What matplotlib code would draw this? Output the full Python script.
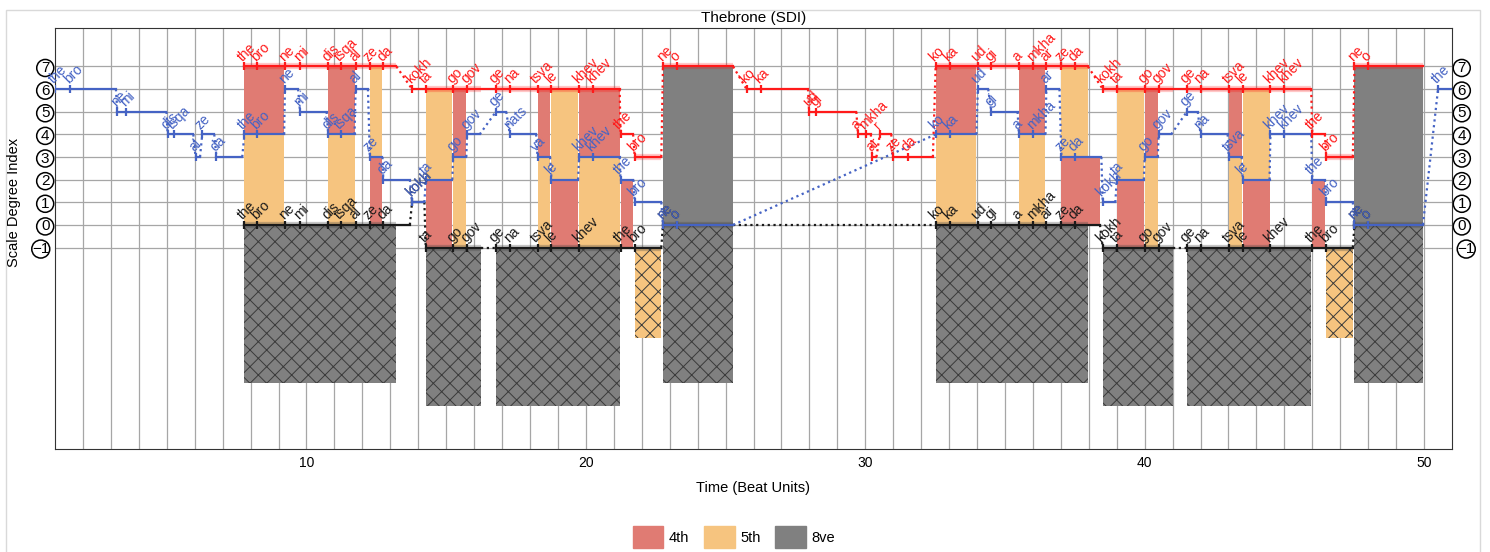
import matplotlib.pyplot as plt
import numpy as np
from matplotlib.patches import Patch, Rectangle

plt.rcParams['font.family'] = ['Liberation Sans', 'DejaVu Sans']
plt.rcParams['hatch.linewidth'] = 0.7

# ---- top voice (red) ----
top_syl = ['the', 'bro', 'ne', 'mi', 'dis', 'tsqa', 'al', 'ze', 'da',
           'kokh', 'ta', 'go', 'gov', 'ge', 'na', 'tsva', 'le', 'khev', 'khev',
           'the', 'bro', 'ne', 'o',
           'ko', 'ka', 'ud', 'gi', 'a', 'mkha', 'ar', 'r', 'ze', 'da',
           'ko', 'ka', 'ud', 'gi', 'a', 'mkha', 'ar', 'ze', 'da',
           'kokh', 'ta', 'go', 'gov', 'ge', 'na', 'tsva', 'le', 'khev', 'khev',
           'the', 'bro', 'ne', 'o']
top_on = [7.78, 8.24, 9.23, 9.77, 10.78, 11.23, 11.76, 12.27, 12.75,
          13.78, 14.27, 15.25, 15.75, 16.78, 17.28, 18.27, 18.77, 19.76, 20.24,
          21.24, 21.75, 22.76, 23.26,
          25.75, 26.26, 27.99, 28.25, 29.74, 30.02, 30.25, 30.52, 30.99, 31.53,
          32.52, 33.02, 34.03, 34.51, 35.5, 36.0, 36.48, 37.02, 37.49,
          38.5, 39.0, 40.0, 40.5, 41.51, 42.0, 43.01, 43.51, 44.5, 45.0,
          46.0, 46.5, 47.51, 47.99]
top_off = [8.24, 9.23, 9.77, 10.78, 11.23, 11.76, 12.27, 12.75, 13.22,
           14.27, 15.25, 15.75, 16.78, 17.28, 18.27, 18.77, 19.76, 20.24, 21.21,
           21.69, 22.7, 23.26, 25.27,
           26.26, 27.95, 28.25, 29.68, 30.02, 30.2, 30.4, 30.93, 31.53, 32.42,
           33.02, 34.03, 34.51, 35.5, 36.0, 36.48, 37.02, 37.49, 37.97,
           39.0, 40.0, 40.5, 41.51, 42.0, 43.01, 43.51, 44.5, 45.0, 45.96,
           46.45, 47.45, 47.99, 49.96]
top_deg = [7, 7, 7, 7, 7, 7, 7, 7, 7,
           6, 6, 6, 6, 6, 6, 6, 6, 6, 6,
           4, 3, 7, 7,
           6, 6, 5, 5, 4, 4, 3, 4, 3, 3,
           7, 7, 7, 7, 7, 7, 7, 7, 7,
           6, 6, 6, 6, 6, 6, 6, 6, 6, 6,
           4, 3, 7, 7]

# ---- middle voice (blue) ----
mid_syl = ['the', 'bro', 'ne', 'mi', 'dis', 'tsqa', 'al', 'ze', 'da',
           'the', 'bro', 'ne', 'mi', 'dis', 'tsqa', 'al', 'ze', 'da',
           'kokh', 'ta', 'go', 'gov', 'ge', 'nats', 'va', 'le', 'khev', 'khev',
           'the', 'bro', 'ne', 'o',
           'ko', 'ka', 'ud', 'gi', 'a', 'mkha', 'ar', 'ze', 'da',
           'kokh', 'ta', 'go', 'gov', 'ge', 'na', 'tsva', 'le', 'khev', 'khev',
           'the', 'bro', 'ne', 'o', 'the']
mid_on = [1.0, 1.54, 3.23, 3.54, 5.03, 5.26, 6.03, 6.27, 6.78,
          7.78, 8.24, 9.23, 9.77, 10.78, 11.23, 11.76, 12.27, 12.75,
          13.78, 14.27, 15.25, 15.75, 16.78, 17.28, 18.27, 18.77, 19.76, 20.24,
          21.24, 21.75, 22.76, 23.26,
          32.52, 33.02, 34.03, 34.51, 35.5, 36.0, 36.48, 37.02, 37.49,
          38.5, 39.0, 40.0, 40.5, 41.51, 42.0, 43.01, 43.51, 44.5, 45.0,
          46.0, 46.5, 47.51, 47.99, 50.5]
mid_off = [1.54, 3.18, 3.54, 4.99, 5.26, 5.95, 6.19, 6.7, 7.7,
           8.24, 9.2, 9.7, 10.72, 11.23, 11.72, 12.2, 12.72, 13.7,
           14.22, 15.22, 15.72, 16.2, 17.15, 18.22, 18.72, 19.72, 20.24, 21.21,
           21.7, 22.7, 23.26, 25.27,
           33.02, 33.98, 34.4, 35.45, 36.0, 36.45, 36.95, 37.49, 38.45,
           38.95, 39.97, 40.47, 40.95, 41.9, 42.97, 43.47, 44.47, 45.0, 45.96,
           46.45, 47.45, 47.99, 49.96, 51.5]
mid_deg = [6, 6, 5, 5, 4, 4, 3, 4, 3,
           4, 4, 6, 5, 4, 4, 6, 3, 2,
           1, 2, 3, 4, 5, 4, 3, 2, 3, 3,
           2, 1, 0, 0,
           4, 4, 6, 5, 4, 4, 6, 3, 3,
           1, 2, 3, 4, 5, 4, 3, 2, 4, 4,
           2, 1, 0, 0, 6]

# ---- bottom voice (black) ----
bot_syl = ['the', 'bro', 'ne', 'mi', 'dis', 'tsqa', 'al', 'ze', 'da',
           'kokh', 'ta', 'go', 'gov', 'ge', 'na', 'tsva', 'le', 'khev',
           'the', 'bro', 'ne', 'o',
           'ko', 'ka', 'ud', 'gi', 'a', 'mkha', 'ar', 'ze', 'da',
           'kokh', 'ta', 'go', 'gov', 'ge', 'na', 'tsva', 'le', 'khev',
           'the', 'bro', 'ne', 'o']
bot_on = [7.78, 8.24, 9.23, 9.77, 10.78, 11.23, 11.76, 12.27, 12.75,
          13.78, 14.27, 15.25, 15.75, 16.78, 17.28, 18.27, 18.77, 19.76,
          21.24, 21.75, 22.76, 23.26,
          32.52, 33.02, 34.03, 34.51, 35.5, 36.0, 36.48, 37.02, 37.49,
          38.5, 39.0, 40.0, 40.5, 41.51, 42.0, 43.01, 43.51, 44.5,
          46.0, 46.5, 47.51, 47.99]
bot_off = [8.24, 9.23, 9.77, 10.78, 11.23, 11.76, 12.27, 12.75, 13.7,
           14.22, 15.25, 15.75, 16.24, 17.28, 18.27, 18.77, 19.76, 21.21,
           21.75, 22.7, 23.26, 25.27,
           33.02, 34.03, 34.51, 35.5, 36.0, 36.48, 37.02, 37.49, 38.4,
           39.0, 40.0, 40.5, 41.0, 42.0, 43.01, 43.51, 44.5, 45.96,
           46.5, 47.45, 47.99, 49.96]
bot_deg = [0, 0, 0, 0, 0, 0, 0, 0, 0,
           1, -1, -1, -1, -1, -1, -1, -1, -1,
           -1, -1, 0, 0,
           0, 0, 0, 0, 0, 0, 0, 0, 0,
           -1, -1, -1, -1, -1, -1, -1, -1, -1,
           -1, -1, 0, 0]

interval_names = {3: '4th', 4: '5th', 7: '8ve'}
interval_colors = {'4th': '#e07b73', '5th': '#f6c47f', '8ve': '#808080'}
y_ticks = [-1, 0, 1, 2, 3, 4, 5, 6, 7]


def pitch_at(on, off, deg, t):
    for a, b, d in zip(on, off, deg):
        if a <= t < b:
            return d
    return None


def interval_segments(lo_voice, hi_voice):
    times = sorted(set(lo_voice[0]) | set(lo_voice[1]) | set(hi_voice[0]) | set(hi_voice[1]))
    segs = []
    for t0, t1 in zip(times[:-1], times[1:]):
        if t1 - t0 < 1e-6:
            continue
        tm = 0.5 * (t0 + t1)
        plo = pitch_at(*lo_voice, tm)
        phi = pitch_at(*hi_voice, tm)
        if plo is None or phi is None:
            continue
        d = phi - plo
        if d not in interval_names:
            continue
        if segs and abs(segs[-1][1] - t0) < 1e-6 and segs[-1][2:] == [plo, phi]:
            segs[-1][1] = t1
        else:
            segs.append([t0, t1, plo, phi])
    return segs


fig = plt.figure(figsize=(14.9, 5.52), dpi=100)
ax = fig.add_axes([55 / 1490, 1 - 449 / 552, (1452 - 55) / 1490, (449 - 28) / 552])

top = (top_on, top_off, top_deg)
mid = (mid_on, mid_off, mid_deg)
bot = (bot_on, bot_off, bot_deg)

# solid interval blocks between neighbouring voices
for lo_v, hi_v in [(mid, top), (bot, mid)]:
    for t0, t1, plo, phi in interval_segments(lo_v, hi_v):
        name = interval_names[phi - plo]
        ax.bar(t0, phi - plo, width=t1 - t0, bottom=plo, align='edge',
               color=interval_colors[name], lw=0, zorder=1)

# outer-voice interval drawn hatched below the bottom voice
for t0, t1, plo, phi in interval_segments(bot, top):
    d = phi - plo
    name = interval_names[d]
    ax.bar(t0, d, width=t1 - t0, bottom=plo - d, align='edge',
           color=interval_colors[name], edgecolor='#3a3a3a', hatch='xx', lw=0, zorder=1)
    ax.plot([t0, t1], [phi, phi], color='red', lw=4.5, alpha=0.22, zorder=2, solid_capstyle='butt')
    ax.plot([t0, t1], [plo, plo], color='#444444', lw=4.5, alpha=0.3, zorder=2, solid_capstyle='butt')


def draw_voice(syl, on, off, deg, color):
    for i in range(len(on)):
        ax.plot([on[i], off[i]], [deg[i], deg[i]], color=color, lw=1.6, zorder=3)
        ax.plot(on[i], deg[i], marker='|', ms=6, mew=1.6, color=color, zorder=3)
        ax.text(on[i] + 0.03, deg[i] + 0.12, syl[i], rotation=45, rotation_mode='anchor',
                ha='left', va='bottom', color=color, fontsize=10, zorder=5)
        if i + 1 < len(on):
            if abs(off[i] - on[i + 1]) > 1e-6 or deg[i] != deg[i + 1]:
                ax.plot([off[i], on[i + 1]], [deg[i], deg[i + 1]], color=color,
                        lw=1.6, ls=(0, (1, 1.6)), zorder=3)


draw_voice(bot_syl, bot_on, bot_off, bot_deg, '#1a1a1a')
draw_voice(mid_syl, mid_on, mid_off, mid_deg, '#4563c4')
draw_voice(top_syl, top_on, top_off, top_deg, '#ff1a1a')

ax.set_xlim(1, 51)
ax.set_ylim(-9.9, 8.7)
ax.set_xticks([10, 20, 30, 40, 50])
ax.set_xticks(np.arange(2, 51), minor=True)
ax.set_yticks(y_ticks)
ax.set_yticklabels(['\u22121' if v < 0 else str(v) for v in y_ticks])
ax.tick_params(axis='y', length=0, labelsize=11, pad=4, labelright=True)
ax.tick_params(axis='x', which='both', length=0, labelsize=10, pad=5)
ax.grid(True, which='both', axis='x', color='#a6a6a6', lw=0.9, zorder=0)
ax.grid(True, which='major', axis='y', color='#a6a6a6', lw=0.9, zorder=0)
ax.set_axisbelow(True)
for tick in ax.yaxis.get_major_ticks():
    for lbl in (tick.label1, tick.label2):
        if lbl.get_text().startswith('\u2212'):
            style = 'circle,pad=0.02'
        else:
            style = 'circle,pad=0.1'
        lbl.set_bbox(dict(boxstyle=style, fc='white', ec='black', lw=1.1))
for s in ax.spines.values():
    s.set_color('#333333')

ax.set_title('Thebrone (SDI)', fontsize=11, pad=4)
ax.set_xlabel('Time (Beat Units)', fontsize=10.5, labelpad=8)
fig.text(14 / 1490, 1 - 202 / 552, 'Scale Degree Index', rotation=90,
         ha='center', va='center', fontsize=10.5)

handles = [Patch(color=interval_colors[k], label=k) for k in ['4th', '5th', '8ve']]
fig.legend(handles=handles, loc='center', bbox_to_anchor=(734 / 1490, 15 / 552), ncol=3,
           frameon=False, fontsize=10.5, handlelength=2.1, handleheight=2.0,
           handletextpad=0.4, columnspacing=1.0)

fig.patches.append(Rectangle((6 / 1490, -0.1), (1480 - 6) / 1490, 1.1 - 10 / 552,
                             transform=fig.transFigure, fill=False, ec='#d9d9d9', lw=1))

fig.savefig('out.png', dpi=100)
